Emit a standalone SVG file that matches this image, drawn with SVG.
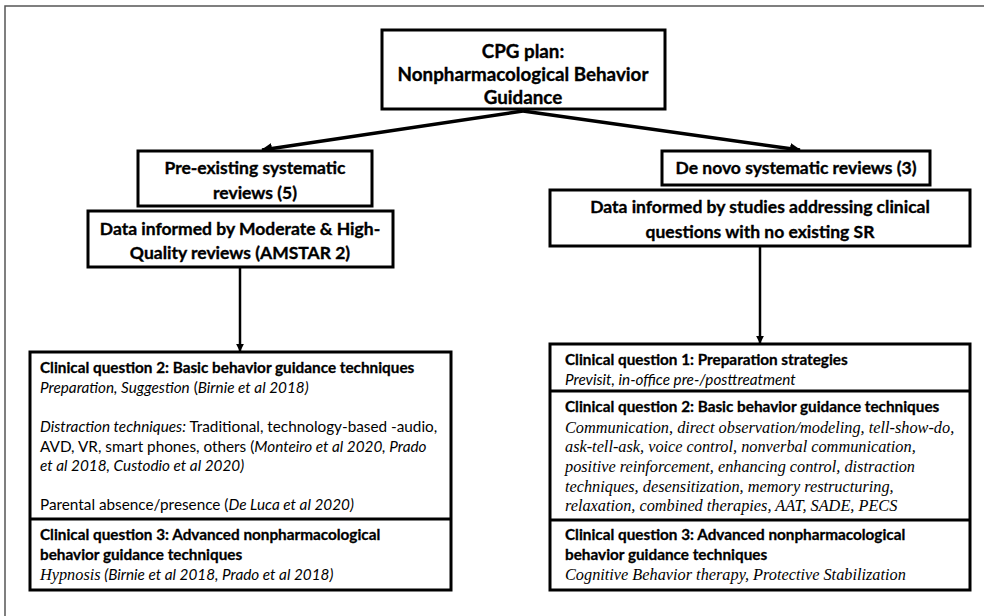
<svg xmlns="http://www.w3.org/2000/svg" width="984" height="616" viewBox="0 0 984 616">
<defs>
<marker id="ah" viewBox="0 0 10 10" refX="9" refY="5" markerWidth="3.2" markerHeight="3.2" orient="auto" markerUnits="strokeWidth">
<path d="M0,0 L10,5 L0,10 z" fill="#000"/>
</marker>
<style>
.box{fill:#fff;stroke:#000;stroke-width:3}
.div{stroke:#000;stroke-width:3}
.hd{font-family:Lato,"Liberation Sans",sans-serif;font-weight:bold;font-size:17.5px;fill:#000;stroke:#000;stroke-width:0.35;text-anchor:middle}
.top{font-size:18.8px}
.b{font-family:Lato,"Liberation Sans",sans-serif;font-weight:bold;font-size:15.3px;fill:#000;stroke:#000;stroke-width:0.3}
.s{font-family:Lato,"Liberation Sans",sans-serif;font-size:15.3px;fill:#000}
.i{font-style:italic}
.t{font-family:"Liberation Serif",serif;font-style:italic;font-size:16.3px;fill:#000}
.ln{stroke:#000;fill:none}
</style>
</defs>
<path d="M5,616 V6 H984" fill="none" stroke="#555" stroke-width="1.5"/>
<g id="connectors">
<line class="ln" x1="523" y1="111" x2="262" y2="150" stroke-width="3.5" marker-end="url(#ah)"/>
<line class="ln" x1="523" y1="111" x2="800" y2="150" stroke-width="3.5" marker-end="url(#ah)"/>
<line class="ln" x1="240" y1="267" x2="240" y2="351" stroke-width="2.5" marker-end="url(#ah)"/>
<line class="ln" x1="760" y1="246" x2="760" y2="343" stroke-width="2.5" marker-end="url(#ah)"/>
</g>
<g id="cpg">
<rect class="box" x="382" y="30" width="283" height="79"/>
<text class="hd top" x="523" y="58">CPG plan:</text>
<text class="hd top" x="523" y="81">Nonpharmacological Behavior</text>
<text class="hd top" x="523" y="104">Guidance</text>
</g>
<g id="preexisting">
<rect class="box" x="138" y="151" width="234" height="55"/>
<text class="hd" x="255" y="174">Pre-existing systematic</text>
<text class="hd" x="255" y="199">reviews (5)</text>
</g>
<g id="data-left">
<rect class="box" x="88" y="211" width="305" height="56"/>
<text class="hd" x="240" y="235">Data informed by Moderate &amp; High-</text>
<text class="hd" x="240" y="259">Quality reviews (AMSTAR 2)</text>
</g>
<g id="denovo">
<rect class="box" x="662" y="151" width="268" height="34"/>
<text class="hd" x="796" y="174">De novo systematic reviews (3)</text>
</g>
<g id="data-right">
<rect class="box" x="550" y="190" width="420" height="56"/>
<text class="hd" x="760" y="213">Data informed by studies addressing clinical</text>
<text class="hd" x="760" y="238">questions with no existing SR</text>
</g>
<g id="left-questions">
<rect class="box" x="30" y="352" width="421" height="238"/>
<line class="div" x1="30" y1="519" x2="451" y2="519"/>
<text class="b" x="40" y="373">Clinical question 2:  Basic behavior guidance techniques</text>
<text class="s" x="40" y="393"><tspan class="i">Preparation, Suggestion</tspan> (<tspan class="i">Birnie et al 2018)</tspan></text>
<text class="s" x="40" y="432"><tspan class="i">Distraction techniques:</tspan> Traditional, technology-based -audio,</text>
<text class="s" x="40" y="452">AVD, VR, smart phones, others (<tspan class="i">Monteiro et al  2020, Prado</tspan></text>
<text class="s i" x="40" y="471">et al 2018, Custodio et al 2020)</text>
<text class="s" x="40" y="510">Parental absence/presence (<tspan class="i">De Luca et al 2020)</tspan></text>
<text class="b" x="40" y="540">Clinical question 3: Advanced nonpharmacological</text>
<text class="b" x="40" y="560">behavior guidance techniques</text>
<text x="40" y="580"><tspan class="t">Hypnosis</tspan><tspan class="s i"> (Birnie et al 2018, Prado et al 2018)</tspan></text>
</g>
<g id="right-questions">
<rect class="box" x="550" y="344" width="420" height="246"/>
<line class="div" x1="550" y1="391" x2="970" y2="391"/>
<line class="div" x1="550" y1="520" x2="970" y2="520"/>
<text class="b" x="565" y="365">Clinical question 1: Preparation strategies</text>
<text class="s i" x="565" y="385">Previsit, in-office pre-/posttreatment</text>
<text class="b" x="565" y="412">Clinical question 2: Basic behavior guidance techniques</text>
<text class="t" x="565" y="433">Communication, direct observation/modeling, tell-show-do,</text>
<text class="t" x="565" y="452">ask-tell-ask, voice control, nonverbal communication,</text>
<text class="t" x="565" y="472">positive reinforcement, enhancing control, distraction</text>
<text class="t" x="565" y="492">techniques, desensitization, memory restructuring,</text>
<text class="t" x="565" y="511">relaxation, combined therapies, AAT, SADE, PECS</text>
<text class="b" x="565" y="540">Clinical question 3: Advanced nonpharmacological</text>
<text class="b" x="565" y="560">behavior guidance techniques</text>
<text class="t" x="565" y="580">Cognitive Behavior therapy, Protective Stabilization</text>
</g>
</svg>
